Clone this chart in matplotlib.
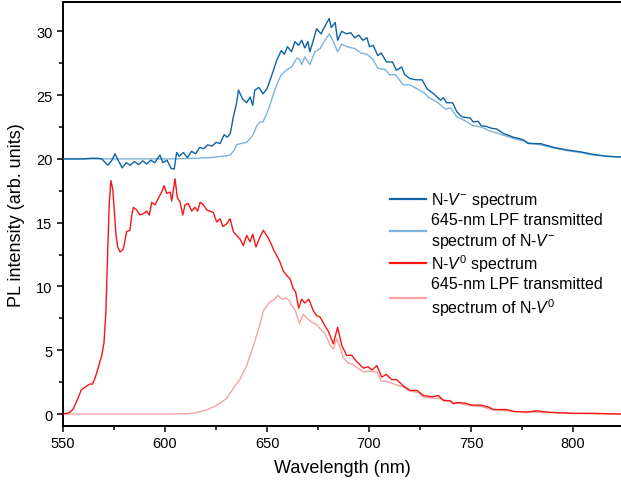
import matplotlib
matplotlib.use( "Agg" )
import matplotlib.pyplot as plt
from matplotlib.ticker import MultipleLocator

#----- Data (wavelength in nm, PL in arb. units) -----
wl_nvm = [ 550, 555, 560, 564, 567, 569, 570.5, 572, 574, 575.5, 577, 579, 581, 583, 585, 587, 589, 591, 593, 595,
	597.5, 599, 601, 603, 604.5, 605.7, 607, 609, 611, 613, 615, 617, 619, 621, 623, 625, 627, 629, 630.5, 632,
	633.5, 635, 636, 638, 640, 641.7, 643, 644, 646, 648, 650, 652, 654.7, 657, 658.5, 660, 662, 663.7, 665.5, 667,
	668.5, 670, 671, 672.7, 674.3, 676.5, 678, 680.5, 681.5, 683.4, 684.6, 686.6, 689, 691, 693, 695, 697, 699, 700.2, 702,
	704.3, 706, 708.5, 711.5, 713.4, 716, 717.5, 720, 723, 726, 728.4, 731.7, 735, 736.5, 738, 741, 743, 745.5, 749.6, 751,
	753.5, 755, 757.5, 760, 762.5, 765.8, 770.7, 775.6, 778, 784, 790.6, 797, 803.7, 810, 817, 823.5 ]
pl_nvm = [ 20.0, 20.0, 20.0, 20.05, 20.05, 20.0, 19.75, 19.5, 19.9, 20.4, 19.9, 19.3, 19.7, 19.5, 19.8, 19.55, 19.85, 19.6, 19.9, 19.7,
	20.3, 19.7, 19.9, 19.25, 19.2, 20.5, 20.2, 20.5, 20.1, 20.6, 20.4, 20.9, 20.8, 21.1, 21.0, 21.3, 21.2, 21.9, 21.7, 22.0,
	23.3, 24.3, 25.4, 24.7, 24.4, 24.85, 24.2, 25.4, 25.6, 25.1, 25.5, 26.4, 27.7, 28.5, 28.2, 28.8, 28.4, 29.2, 28.9, 29.3,
	28.7, 29.2, 28.4, 29.3, 30.2, 29.8, 30.3, 31.0, 30.3, 30.7, 29.3, 30.0, 29.8, 29.9, 29.5, 29.7, 29.3, 29.5, 28.8, 28.9,
	28.1, 28.3, 27.6, 27.6, 26.95, 27.2, 26.6, 26.3, 26.2, 26.2, 25.5, 25.1, 24.6, 24.8, 24.4, 24.4, 23.7, 23.3, 23.2, 22.9,
	22.95, 22.6, 22.55, 22.4, 22.35, 22.0, 21.7, 21.5, 21.2, 21.2, 20.9, 20.7, 20.55, 20.35, 20.2, 20.15 ]

wl_nvm_lpf = [ 550, 570, 590, 605, 615, 622, 628, 632, 634, 635, 637, 640, 641.7, 643, 645, 646.6, 648, 649.5, 651.4, 653,
	654.7, 657, 659.8, 662, 664.6, 666, 667, 668.5, 671, 673.5, 676, 678, 680.6, 682.5, 684.6, 686.6, 689, 693, 696, 699,
	702, 704.3, 708, 710, 713, 716.7, 720, 723.5, 726.8, 729, 733.4, 737.5, 740, 743, 747, 751, 755, 759, 763, 767,
	771, 775.6, 780, 784, 790.6, 797, 803.7, 810, 817, 823.5 ]
pl_nvm_lpf = [ 20.0, 20.0, 20.0, 20.0, 20.05, 20.1, 20.2, 20.3, 20.7, 21.1, 21.2, 21.3, 21.6, 21.85, 22.6, 22.9, 22.9, 23.4, 24.2, 25.0,
	25.8, 26.6, 27.0, 27.2, 27.9, 27.8, 27.4, 28.0, 27.4, 28.4, 28.65, 29.2, 29.8, 29.2, 28.4, 29.0, 28.8, 28.65, 28.3, 28.2,
	27.8, 27.1, 27.0, 26.6, 26.6, 25.8, 25.8, 25.5, 25.2, 24.85, 24.45, 23.9, 24.0, 23.3, 23.0, 22.6, 22.5, 22.2, 22.0, 21.8,
	21.6, 21.4, 21.2, 21.1, 20.85, 20.65, 20.5, 20.3, 20.2, 20.15 ]

wl_nv0 = [ 550, 551.8, 553.5, 555, 557.5, 559, 561.6, 563.2, 564.5, 565.7, 567.3, 569, 570.1, 571, 571.9, 572.7, 573.5, 574.4, 575.2, 576,
	576.8, 578, 579.6, 581.2, 582.8, 583.7, 584.5, 586.1, 587.7, 589.4, 591, 592.3, 593.5, 595.1, 596.7, 598.4, 599.5, 600.8, 602.5, 603.3,
	604.9, 606, 607.4, 608.7, 609.8, 611.4, 613.1, 614.7, 616, 617.2, 618.8, 620.4, 622, 623.7, 625.3, 627, 628.3, 630.2, 631.9, 633.5,
	635.1, 636.8, 638.4, 640, 641.7, 643, 644.6, 646.6, 648.2, 650.6, 652, 653, 654.8, 656.4, 658, 660, 661.3, 662.9, 664, 665.5,
	667, 668.5, 670.5, 672.7, 674.4, 676, 678.4, 680, 682.5, 684.6, 686.6, 689, 691.5, 694, 697.2, 699.5, 701.5, 703.8, 706.2, 708.5,
	711.1, 713.5, 716.8, 720.1, 723.5, 726.6, 731, 734, 736.5, 739.7, 741.3, 743.5, 747, 750.4, 754.5, 758.6, 761, 767.6, 771, 777.5,
	782.5, 787, 793.7, 800, 810, 823.5 ]
pl_nv0 = [ 0.0, 0.05, 0.15, 0.4, 1.3, 1.9, 2.2, 2.35, 2.35, 2.8, 3.65, 4.6, 5.6, 8.0, 12.7, 16.6, 18.3, 17.6, 15.8, 14.0,
	13.1, 12.7, 12.95, 14.3, 14.4, 15.6, 16.2, 16.0, 15.6, 15.7, 15.9, 15.6, 16.6, 16.4, 16.9, 17.4, 17.9, 17.3, 17.4, 16.7,
	18.45, 17.0, 16.6, 15.6, 16.4, 16.5, 15.9, 16.2, 15.9, 16.6, 16.4, 16.0, 15.9, 15.8, 15.05, 15.3, 14.7, 14.9, 15.3, 14.3,
	14.0, 13.7, 13.2, 14.0, 13.5, 14.1, 13.1, 13.9, 14.4, 13.8, 13.35, 12.95, 12.4, 11.9, 11.2, 10.8, 10.6, 9.8, 9.6, 8.3,
	9.0, 8.7, 9.0, 8.1, 7.7, 7.6, 6.9, 6.5, 5.5, 6.8, 5.4, 4.6, 4.6, 4.1, 3.6, 3.7, 3.45, 3.8, 2.9, 3.1,
	2.7, 2.7, 2.2, 1.85, 1.85, 1.45, 1.35, 1.45, 1.05, 1.05, 0.8, 0.9, 0.85, 0.7, 0.7, 0.55, 0.35, 0.35, 0.2, 0.15,
	0.25, 0.15, 0.1, 0.05, 0.05, 0.0 ]

wl_nv0_lpf = [ 550, 580, 600, 610, 614, 620, 625, 630, 633.5, 636.8, 640, 641.7, 643, 645, 646.6, 648.2, 650, 651.5, 653, 655.5,
	656.5, 658, 659.5, 661.3, 662, 663.7, 665.9, 667.8, 670, 672, 674.4, 676, 678.4, 680.9, 682.5, 684.2, 686, 687.4, 689.8, 692,
	694, 697.2, 700, 703.8, 706, 710, 713, 717, 720, 724, 727, 731, 735, 740, 745, 750, 755, 760, 770, 780,
	790, 800, 823.5 ]
pl_nv0_lpf = [ 0.0, 0.0, 0.0, 0.02, 0.07, 0.3, 0.65, 1.2, 2.0, 2.75, 3.8, 4.6, 5.2, 6.2, 7.1, 8.1, 8.5, 8.8, 8.9, 9.3,
	9.1, 9.0, 9.1, 8.8, 8.5, 8.2, 7.1, 7.8, 7.45, 7.2, 7.0, 6.7, 6.3, 5.4, 5.1, 5.9, 5.1, 4.4, 4.0, 3.9,
	3.65, 3.3, 3.35, 3.3, 2.6, 2.5, 2.3, 2.1, 1.8, 1.7, 1.3, 1.25, 1.2, 0.95, 0.8, 0.65, 0.6, 0.35, 0.2, 0.15,
	0.1, 0.05, 0.0 ]

labels = [ r"N-$V^{-}$ spectrum", "645-nm LPF transmitted\n" + r"spectrum of N-$V^{-}$",
	r"N-$V^{0}$ spectrum", "645-nm LPF transmitted\n" + r"spectrum of N-$V^{0}$" ]
colours = [ "#0d63a5", "#7db3db", "#f51616", "#f6a3a3" ]


#----- Plot -----
plt.rcParams.update({ "font.family": "Liberation Sans", "font.size": 10,
	"mathtext.fontset": "custom", "mathtext.rm": "Liberation Sans",
	"mathtext.it": "Liberation Sans:italic" })

fig = plt.figure( figsize=(6.21,4.85), dpi=100 )
ax = fig.add_axes( [ 63/621, 58/485, 558/621, 424/485 ] )

ax.plot( wl_nvm_lpf, pl_nvm_lpf, color=colours[1], lw=1.0, zorder=2 )
ax.plot( wl_nvm, pl_nvm, color=colours[0], lw=1.0, zorder=3 )
ax.plot( wl_nv0_lpf, pl_nv0_lpf, color=colours[3], lw=1.0, zorder=2 )
ax.plot( wl_nv0, pl_nv0, color=colours[2], lw=1.0, zorder=3 )

ax.set_xlim( 550, 823.5 )
ax.set_ylim( -0.94, 32.3 )
ax.xaxis.set_major_locator( MultipleLocator(50) )
ax.xaxis.set_minor_locator( MultipleLocator(25) )
ax.yaxis.set_major_locator( MultipleLocator(5) )
ax.yaxis.set_minor_locator( MultipleLocator(2.5) )
ax.tick_params( which="both", direction="out", width=1.1, length=4, labelsize=10.5, color="black" )
ax.tick_params( which="minor", length=3 )
ax.spines["right"].set_visible( False )
for s in [ "left", "bottom", "top" ]:
	ax.spines[s].set_linewidth( 1.4 )

ax.set_xlabel( "Wavelength (nm)", fontsize=13, labelpad=6 )
ax.set_ylabel( "PL intensity (arb. units)", fontsize=13, labelpad=8 )

#--- Legend built from proxy lines ---
handles = [ plt.Line2D( [], [], color=c, lw=1.6 ) for c in colours ]
leg = ax.legend( handles, labels, loc="upper left", bbox_to_anchor=(0.586, 0.556), frameon=False,
	fontsize=11.5, borderpad=0, borderaxespad=0, handlelength=2.25, handletextpad=0.3, labelspacing=0.15 )
for t in leg.get_texts():
	t.set_linespacing( 1.3 )

plt.savefig( "out.png", dpi=100 )
plt.close()
